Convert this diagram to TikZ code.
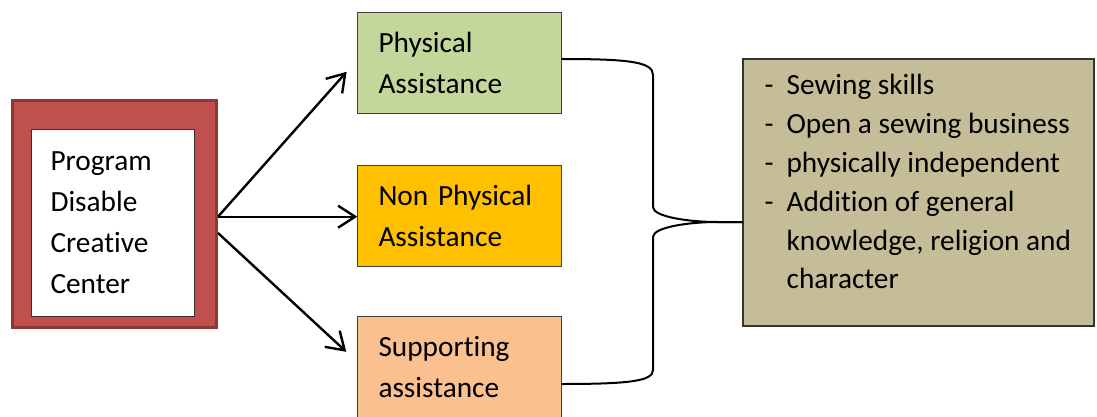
\documentclass[tikz,border=0pt]{standalone}
\usepackage{fontspec}
\setmainfont{Carlito}[Ligatures=NoCommon]
\usepackage{tikz}
\usetikzlibrary{calc,arrows.meta,positioning}

\definecolor{progred}{HTML}{C0504D}
\definecolor{progedge}{HTML}{8C3836}
\definecolor{physgreen}{HTML}{C4D79B}
\definecolor{nonyellow}{HTML}{FFC000}
\definecolor{suppeach}{HTML}{FAC090}
\definecolor{resultkhaki}{HTML}{C4BD97}

\tikzset{
  boxtext/.style={font=\fontsize{29.3}{41}\selectfont, align=left},
  assist/.style={draw=black!75, line width=0.9pt, boxtext, text width=162pt,
    inner xsep=20.5pt, minimum width=203.5pt, minimum height=101pt},
  flowarrow/.style={line width=2.4pt, arrows={-Straight Barb[length=17pt, width=22pt]}},
  brace/.style={line width=2pt}
}

\begin{document}
\begin{tikzpicture}[x=1pt,y=-1pt]
        \useasboundingbox (0,0) rectangle (1097,417);
        % left block
        \node[draw=progedge, fill=progred, line width=3pt, minimum width=204pt,
          minimum height=227pt] (prog) at (114.5,214) {};
        \node[draw=black!80, fill=white, line width=0.9pt, boxtext, text width=125pt,
          inner xsep=19pt, minimum width=162pt, minimum height=187pt] (progtext) at (113,222.5)
          {Program\\Disable\\Creative\\Center};
        % three kinds of assistance
        \node[assist, fill=physgreen] (phys) at (459.5,62.5) {Physical\\Assistance};
        \node[assist, fill=nonyellow] (nonphys) at (459.5,216) {Non Physical\\Assistance};
        \node[assist, fill=suppeach, minimum height=103pt] (supp) at (459.5,367.5)
          {Supporting\\assistance};
        % outcome
        \node[draw=black!80, fill=resultkhaki, line width=1.2pt, minimum width=351pt,
          minimum height=267pt] (result) at (918.5,192.5) {};
        \node[boxtext, font=\fontsize{29.3}{38.8}\selectfont, anchor=north west, inner sep=0pt,
          below right=16pt and 22pt of result.north west] (resulttext)
          {\makebox[22pt][l]{-}Sewing skills\\
           \makebox[22pt][l]{-}Open a sewing business\\
           \makebox[22pt][l]{-}physically independent\\
           \makebox[22pt][l]{-}Addition of general\\
           \hspace*{22pt}knowledge, religion and\\
           \hspace*{22pt}character};
        % arrows
        \draw[flowarrow, shorten >=16pt] ([yshift=-2.7pt]prog.east) -- ([yshift=2.7pt]phys.west);
        \draw[flowarrow] ([yshift=-2.7pt]prog.east) -- ([yshift=-0.7pt]nonphys.west);
        \draw[flowarrow, shorten >=15pt] ([yshift=-19pt]prog.east) -- ([yshift=5.5pt]supp.west);
        % brace into the outcome box
        \coordinate (meet) at (743,222);
        \draw[brace] ([yshift=3.5pt]phys.east) .. controls (630,59) and (653,62) .. (653,75)
          -- (653,207) .. controls (653,217) and (690,222) .. (717,222) -- (meet);
        \draw[brace] ([yshift=-16.5pt]supp.east) .. controls (630,384) and (653,381) .. (653,370)
          -- (653,237) .. controls (653,227) and (690,222) .. (717,222) -- (meet);
      \end{tikzpicture}
\end{document}
